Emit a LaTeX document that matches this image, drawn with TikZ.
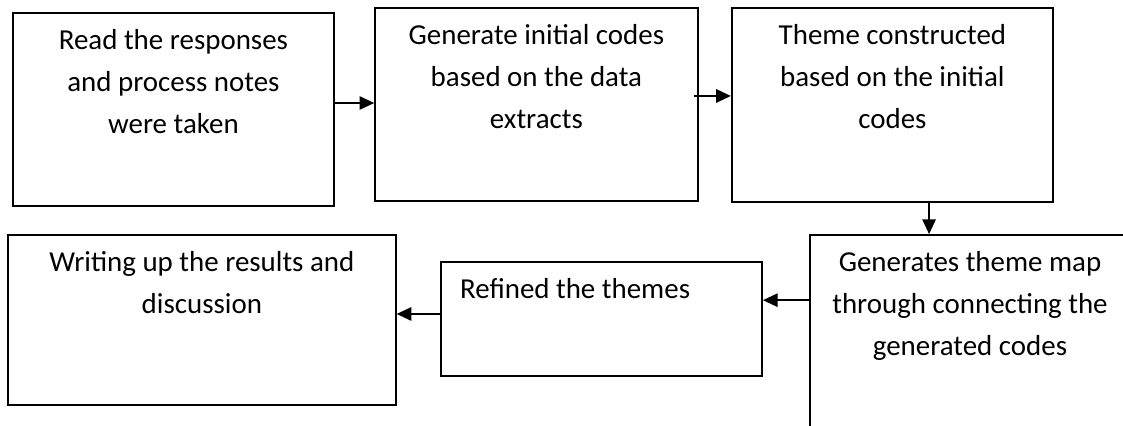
\documentclass[tikz,border=0pt]{standalone}
\usepackage{fontspec}
\setmainfont{Carlito}
\usetikzlibrary{positioning,arrows.meta}

\tikzset{
  stepbox/.style={draw=black, line width=1.3pt, inner sep=0pt},
  steptext/.style={align=center, inner sep=0pt, font=\fontsize{21.7}{31.5}\selectfont},
  flow/.style={line width=1.3pt, -{Triangle[length=11pt,width=10pt]}}
}

\begin{document}
\begin{tikzpicture}[x=0.75pt, y=-0.75pt]
			%%%%% START %%%%%
			\useasboundingbox (0,0) rectangle (1123,425);
			
			\node[stepbox, minimum width=241pt, minimum height=145pt] (read) at (173.4,109.4) {};
			\node[stepbox, minimum width=242pt, minimum height=144.8pt] (gencodes) at (536.4,104.5) {};
			\node[stepbox, minimum width=241pt, minimum height=145.3pt] (theme) at (892.4,104.9) {};
			
			\node[stepbox, minimum width=240pt, minimum height=153.8pt] (themap) at (970,337.5) {};
			\node[stepbox, minimum width=241pt, minimum height=85.3pt] (refined) at (601.4,318.9) {};
			\node[stepbox, minimum width=290.8pt, minimum height=127.5pt] (writing) at (201.9,320) {};
			
			\node[steptext, below=13pt of read.north] (readtxt) {Read the responses\\and process notes\\were taken};
			\node[steptext, below=13pt of gencodes.north] (gencodestxt) {Generate initial codes\\based on the data\\extracts};
			\node[steptext, below=13pt of theme.north] (themetxt) {Theme constructed\\based on the initial\\codes};
			\node[steptext, below=13pt of themap.north] (themaptxt) {Generates theme map\\through connecting the\\generated codes};
			\node[steptext, anchor=north west] (refinedtxt) at ([xshift=15pt,yshift=-13pt]refined.north west) {Refined the themes};
			\node[steptext, below=13pt of writing.north] (writingtxt) {Writing up the results and\\discussion};
			
			\draw[flow] ([yshift=4.8pt]read.east) -- ([yshift=4.8pt]read.east -| gencodes.west);
			\draw[flow] ([xshift=-3.8pt,yshift=6.4pt]gencodes.east) -- ([yshift=6.4pt]gencodes.east -| theme.west);
			\draw[flow] ([xshift=27.5pt]theme.south) -- ([xshift=27.5pt]theme.south |- themap.north);
			\draw[flow] ([yshift=28pt]themap.west) -- ([yshift=28pt]themap.west -| refined.east);
			\draw[flow] ([yshift=3.7pt]refined.west) -- ([yshift=3.7pt]refined.west -| writing.east);
			
			%%%%% END %%%%%
\end{tikzpicture}
\end{document}
